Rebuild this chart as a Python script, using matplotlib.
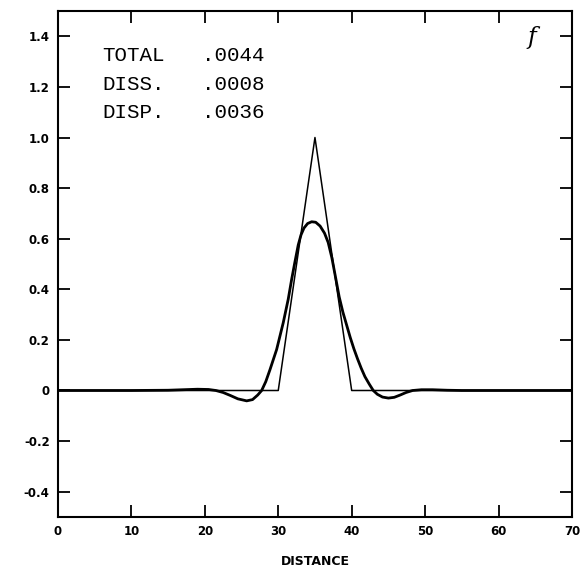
import matplotlib
matplotlib.use('Agg')
import matplotlib.pyplot as plt
import numpy as np

# exact triangle (initial shape)
x_exact = [0, 30, 35, 40, 70]
y_exact = [0, 0, 1.0, 0, 0]

# computed solution
x_num = [0, 10, 15, 17, 19, 20.5, 21.5, 22.5, 23.5, 24.5, 25.7, 26.5, 27.2,
         27.74, 28.3, 28.87, 29.78, 30.68, 31.36, 31.83, 32.25, 32.72, 33.1,
         33.5, 34.0, 34.55, 35.1, 35.7, 36.3, 36.8, 37.3, 37.8, 38.3, 38.8,
         39.3, 39.8, 40.3, 40.8, 41.3, 41.8, 42.4, 42.94, 43.5, 44.2, 45.0,
         45.8, 46.6, 47.4, 48.3, 49.5, 51, 53, 55, 70]
y_num = [0, 0, 0.001, 0.003, 0.005, 0.004, 0.0, -0.008, -0.02, -0.033, -0.041,
         -0.036, -0.018, 0, 0.035, 0.082, 0.162, 0.268, 0.361, 0.44, 0.505,
         0.575, 0.615, 0.642, 0.66, 0.667, 0.665, 0.65, 0.622, 0.585, 0.525,
         0.448, 0.37, 0.31, 0.26, 0.21, 0.165, 0.125, 0.088, 0.055, 0.025, 0,
         -0.015, -0.026, -0.03, -0.027, -0.018, -0.008, 0, 0.003, 0.003,
         0.001, 0, 0]

x_ticks = [0, 10, 20, 30, 40, 50, 60, 70]
x_labels = ['0', '10', '20', '30', '40', '50', '60', '70']
y_ticks = [-0.4, -0.2, 0, 0.2, 0.4, 0.6, 0.8, 1.0, 1.2, 1.4]
y_labels = ['-0.4', '-0.2', '0', '0.2', '0.4', '0.6', '0.8', '1.0', '1.2', '1.4']

err_names = ['TOTAL', 'DISS.', 'DISP.']
err_values = ['.0044', '.0008', '.0036']

fig = plt.figure(figsize=(5.88, 5.71), dpi=100)
ax = fig.add_axes([0.0986, 0.0946, 0.8741, 0.8861])

ax.plot(x_exact, y_exact, color='black', lw=1.1)
ax.plot(x_num, y_num, color='black', lw=2.0)

ax.set_xlim(0, 70)
ax.set_ylim(-0.5, 1.5)
ax.set_xticks(x_ticks)
ax.set_yticks(y_ticks)
lab_font = dict(family='DejaVu Sans', weight='bold', size=8.5)
ax.set_xticklabels(x_labels, **lab_font)
ax.set_yticklabels(y_labels, **lab_font)
ax.tick_params(direction='in', length=8.5, width=1.3, top=True, right=True, pad=6)
for s in ax.spines.values():
    s.set_linewidth(1.5)
ax.set_xlabel('DISTANCE', fontdict=dict(family='DejaVu Sans', weight='bold', size=9),
              labelpad=12)

# errors table
row_y = [1.325, 1.21, 1.098]
for name, val, yy in zip(err_names, err_values, row_y):
    ax.text(6.0, yy, name, family='Liberation Mono', fontsize=15, va='center', ha='left')
    ax.text(19.6, yy, val, family='Liberation Mono', fontsize=15, va='center', ha='left')

ax.text(64.5, 1.397, 'f', family='DejaVu Serif', style='italic',
        fontsize=17, va='center', ha='center')

fig.savefig('out.png', dpi=100)
